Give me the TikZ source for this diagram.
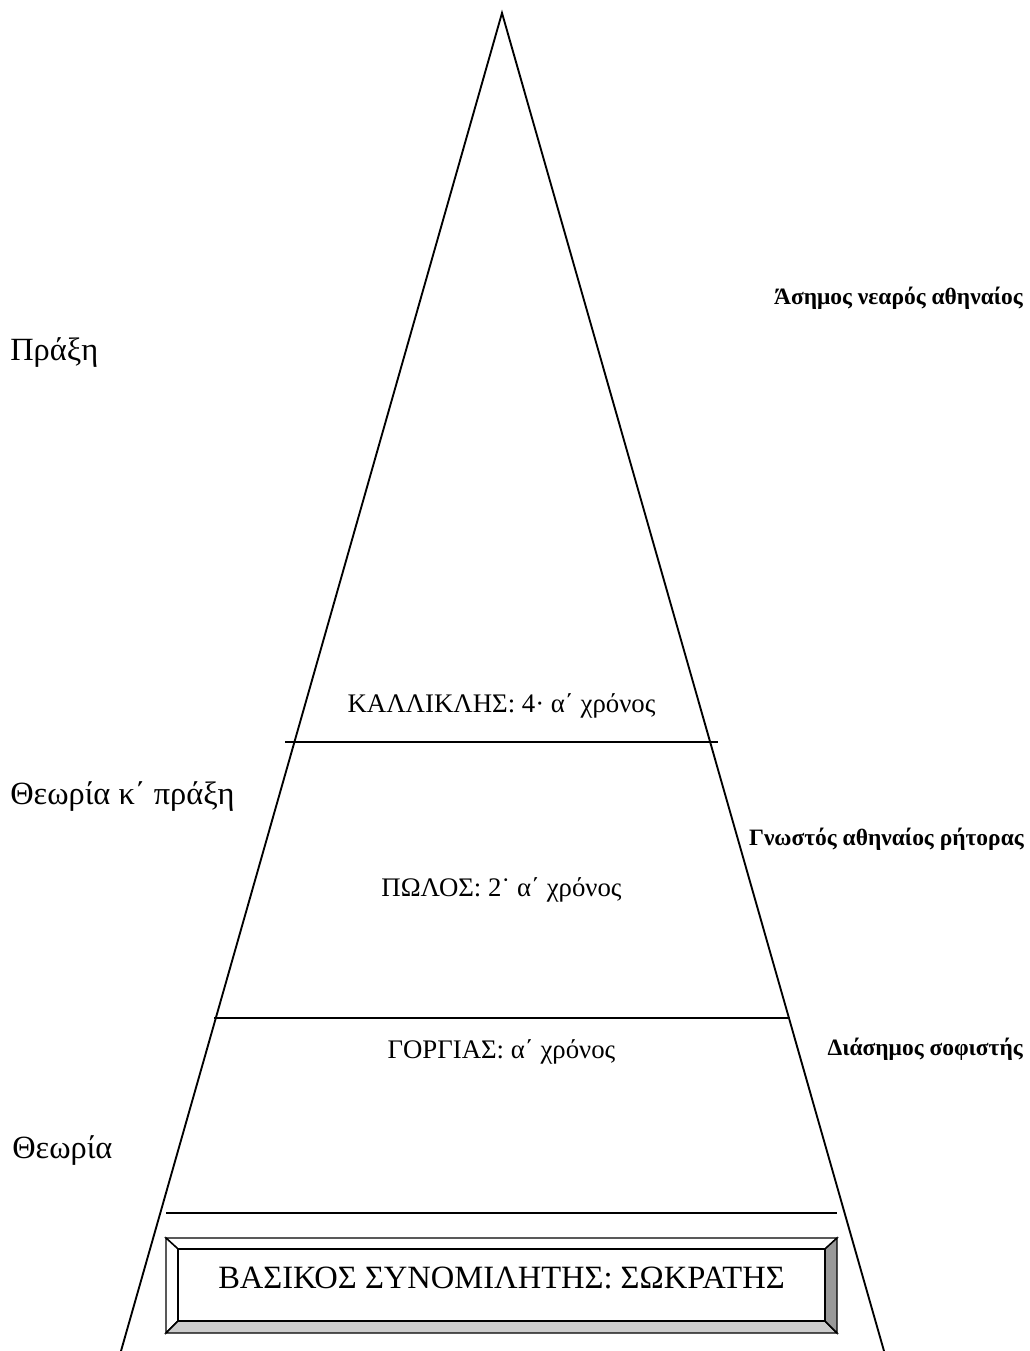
\documentclass[tikz,border=0pt]{standalone}
\usepackage{fontspec}
\setmainfont{Liberation Serif}
\begin{document}
\begin{tikzpicture}[x=0.75pt,y=-0.75pt,
  edge/.style={line width=1.4pt,black},
  midlabel/.style={font=\fontsize{20.1}{23}\selectfont,inner sep=0pt},
  sidelabel/.style={font=\fontsize{24.3}{28}\selectfont,inner sep=0pt,anchor=base west},
  rightlabel/.style={font=\bfseries\fontsize{17.6}{20}\selectfont,inner sep=0pt,anchor=base east},
  bevel/.style={line width=1.1pt,black}]
\useasboundingbox (0,0) rectangle (1030,1351);
% pyramid
\coordinate (apex) at (502,13);
\coordinate (bl) at (121,1351);
\coordinate (br) at (884,1351);
\draw[edge] (bl) -- (apex) -- (br);
% dividers
\coordinate (d1l) at (285,742); \coordinate (d1r) at (718,742);
\coordinate (d2l) at (214,1018); \coordinate (d2r) at (790,1018);
\coordinate (d3l) at (166,1213); \coordinate (d3r) at (837,1213);
\draw[edge] (d1l) -- (d1r);
\draw[edge] (d2l) -- (d2r);
\draw[edge] (d3l) -- (d3r);
% bevel box
\coordinate (o1) at (166,1238); \coordinate (o2) at (837,1238);
\coordinate (o3) at (837,1333); \coordinate (o4) at (166,1333);
\coordinate (i1) at (178,1249); \coordinate (i2) at (825,1249);
\coordinate (i3) at (825,1321); \coordinate (i4) at (178,1321);
\filldraw[bevel,fill=white] (o1) -- (o2) -- (i2) -- (i1) -- cycle;
\filldraw[bevel,fill=white] (o1) -- (i1) -- (i4) -- (o4) -- cycle;
\filldraw[bevel,fill=black!20] (o4) -- (i4) -- (i3) -- (o3) -- cycle;
\filldraw[bevel,fill=black!40] (o2) -- (o3) -- (i3) -- (i2) -- cycle;
\draw[bevel] (i1) rectangle (i3);
\node[font=\fontsize{24.4}{28}\selectfont,inner sep=0pt,anchor=base] (main) at (501.5,1288) {ΒΑΣΙΚΟΣ ΣΥΝΟΜΙΛΗΤΗΣ: ΣΩΚΡΑΤΗΣ};
% level labels
\node[midlabel] (kall) at (501.5,706) {ΚΑΛΛΙΚΛΗΣ: 4· α΄ χρόνος};
\node[midlabel] (pol) at (501.5,890) {ΠΩΛΟΣ: 2˙ α΄ χρόνος};
\node[midlabel] (gorg) at (501.5,1052) {ΓΟΡΓΙΑΣ: α΄ χρόνος};
% left labels
\node[sidelabel] (praxi) at (10,361) {Πράξη};
\node[sidelabel] (thp) at (10,804) {Θεωρία κ΄ πράξη};
\node[sidelabel] (theo) at (12,1158) {Θεωρία};
% right labels
\node[rightlabel] (asim) at (1023,305) {Άσημος νεαρός αθηναίος};
\node[rightlabel] (gnos) at (1024,845) {Γνωστός αθηναίος ρήτορας};
\node[rightlabel] (dias) at (1023,1055) {Διάσημος σοφιστής};
\end{tikzpicture}
\end{document}
